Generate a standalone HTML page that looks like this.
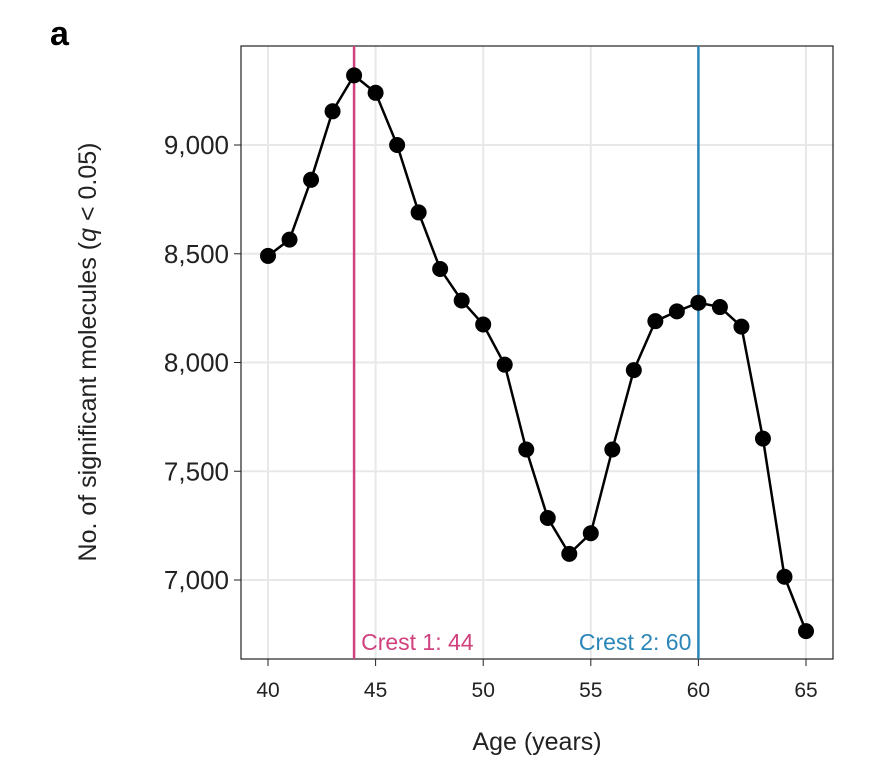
<!DOCTYPE html>
<html><head><meta charset="utf-8"><style>
body{margin:0;background:#fff;}
svg text{font-family:"Liberation Sans",sans-serif;}
</style></head><body>
<svg id="chart" width="870" height="764" xmlns="http://www.w3.org/2000/svg">
<text x="50" y="45" font-size="34" font-weight="bold" fill="#000">a</text>
<g id="grid"></g>
<rect x="241" y="46" width="592" height="613" fill="none" stroke="#222" stroke-width="1.2"/>
<g id="axes"></g>
<g id="marks"></g>
<text x="537" y="750" font-size="25" text-anchor="middle" fill="#222">Age (years)</text>
<text transform="translate(96,352) rotate(-90)" font-size="25" text-anchor="middle" fill="#222">No. of significant molecules (<tspan font-style="italic">q</tspan> &lt; 0.05)</text>
</svg>
<script>
const ages=[40,41,42,43,44,45,46,47,48,49,50,51,52,53,54,55,56,57,58,59,60,61,62,63,64,65];
const counts=[8490,8565,8840,9155,9320,9240,9000,8690,8430,8285,8175,7990,7600,7285,7120,7215,7600,7965,8190,8235,8275,8255,8165,7650,7015,6765];
const xTicks=[40,45,50,55,60,65];
const yTicks=[7000,7500,8000,8500,9000];
const yTickLabels=["7,000","7,500","8,000","8,500","9,000"];
const crests=[44,60];
const crestLabels=["Crest 1: 44","Crest 2: 60"];
const crestColors=["#d0417e","#2a86b8"];
const NS="http://www.w3.org/2000/svg";
const x=v=>268+(v-40)*(806-268)/25;
const y=v=>580-(v-7000)*(580-145)/2000;
function mk(t,a,p){const e=document.createElementNS(NS,t);for(const k in a)e.setAttribute(k,a[k]);p.appendChild(e);return e;}
const grid=document.getElementById('grid'),axes=document.getElementById('axes'),marks=document.getElementById('marks');
xTicks.forEach(v=>{
 const l=mk('line',{x1:x(v),x2:x(v),y1:46,y2:659,stroke:'#e8e8e8','stroke-width':2},grid);
 
 
 const tk=mk('line',{x1:x(v),x2:x(v),y1:659,y2:666,stroke:'#222'},axes);
 
 
 const t=mk('text',{x:x(v),y:697,'font-size':21,'text-anchor':'middle',fill:'#222'},axes);
 t.textContent=v;
 
 
});
yTicks.forEach((v,i)=>{
 const l=mk('line',{x1:241,x2:833,y1:y(v),y2:y(v),stroke:'#e8e8e8','stroke-width':2},grid);
 
 
 const tk=mk('line',{x1:234,x2:241,y1:y(v),y2:y(v),stroke:'#222'},axes);
 
 
 const t=mk('text',{x:229,y:y(v)+9,'font-size':26,'text-anchor':'end',fill:'#222'},axes);
 t.textContent=yTickLabels[i];
 
 
});
crests.forEach((c,i)=>{
 const l=mk('line',{x1:x(c),x2:x(c),y1:46,y2:659,stroke:crestColors[i],'stroke-width':2.5},marks);
 
 
 const t=mk('text',{x:x(c)+(i==0?7:-7),y:650,'font-size':23,'text-anchor':i==0?'start':'end',fill:crestColors[i]},marks);
 t.textContent=crestLabels[i];
 
 
});
const path=mk('polyline',{points:ages.map((a,i)=>x(a)+','+y(counts[i])).join(' '),fill:'none',stroke:'#000','stroke-width':2.5},marks);


ages.forEach((a,i)=>{
 const c=mk('circle',{cx:x(a),cy:y(counts[i]),r:8,fill:'#000'},marks);
 
 
});
</script>
</body></html>
